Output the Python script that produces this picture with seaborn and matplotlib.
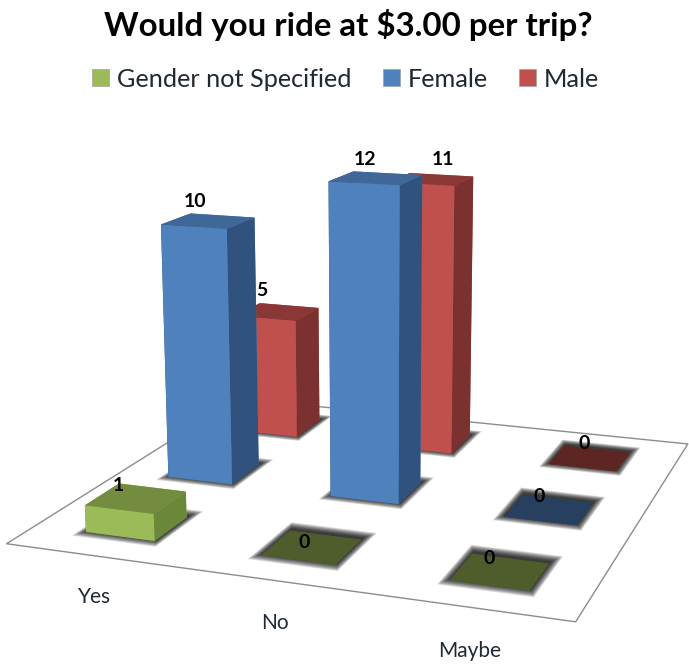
import matplotlib
matplotlib.use("Agg")
import matplotlib.pyplot as plt
import numpy as np
import pandas as pd
import seaborn as sns
from matplotlib.patches import Patch
from mpl_toolkits.mplot3d import proj3d
from mpl_toolkits.mplot3d.art3d import Poly3DCollection

categories = ["Yes", "No", "Maybe"]
series_names = ["Gender not Specified", "Female", "Male"]
gender_not_specified = [1, 0, 0]
female = [10, 12, 0]
male = [5, 11, 0]

# front, top, side, flat (zero height) shades
FACE_COLORS = {
    "Gender not Specified": ("#9BBB59", "#738C40", "#6B8739", "#4F5C2B"),
    "Female": ("#4F81BD", "#3F6797", "#31527C", "#27405F"),
    "Male": ("#C0504D", "#8A3835", "#7A3130", "#5E2623"),
}
# camera and bar footprint, fitted against the reference's floor corners
ELEV, AZIM, FOCAL, ZOOM = 13.88, -70.21, 0.4919, 1.2041
BOX_ASPECT = (1, 0.9705, 0.5885)
SHIFT_X, SHIFT_Y = 21.9 / 689, -13.9 / 664
BAR_X0, BAR_DX = 0.3056, 0.4001
BAR_Y0, BAR_DY = 0.2978, 0.3908
LABEL_COLOR = "#1f2933"
# pixel nudges for the value labels (Excel places them by its own rules)
LABEL_NUDGE = {
    ("Gender not Specified", "Yes"): (-7, -4),
    ("Gender not Specified", "No"): (3, -13),
    ("Gender not Specified", "Maybe"): (1, -5),
    ("Female", "Yes"): (-3, 3),
    ("Female", "No"): (0, 2),
    ("Female", "Maybe"): (1, -3),
    ("Male", "Yes"): (-6, 7),
    ("Male", "No"): (21, 4),
    ("Male", "Maybe"): (4, 0),
}

sns.set_theme(style="white")
plt.rcParams["font.family"] = ["Lato", "DejaVu Sans"]

df = pd.DataFrame({
    "category": categories * 3,
    "series": np.repeat(series_names, 3),
    "value": gender_not_specified + female + male,
})
df["xi"] = df["category"].map({c: i for i, c in enumerate(categories)})
df["yi"] = df["series"].map({s: i for i, s in enumerate(series_names)})

fig = plt.figure(figsize=(6.89, 6.64), dpi=100)
ax = fig.add_axes([SHIFT_X, SHIFT_Y, 1, 1], projection="3d", computed_zorder=False)
ax.set_proj_type("persp", focal_length=FOCAL)
ax.view_init(elev=ELEV, azim=AZIM)
ax.set_xlim(0, 3)
ax.set_ylim(0, 3)
ax.set_zlim(0, 12)
ax.set_box_aspect(BOX_ASPECT, zoom=ZOOM)
ax.set_axis_off()


def project(x, y, z):
    """Screen position of a 3D point, in the axes' 2D data coordinates."""
    px, py, _ = proj3d.proj_transform(x, y, z, ax.get_proj())
    return px, py


floor = Poly3DCollection([[(0, 0, 0), (3, 0, 0), (3, 3, 0), (0, 3, 0)]],
                         facecolors="white", edgecolors="#8c8c8c", linewidths=1.0)
floor.set_zorder(0)
ax.add_collection3d(floor)
floor.set_clip_on(False)

# painter's order: far series first, and left categories first within a series
order = df.sort_values(["yi", "xi"], ascending=[False, True])

# soft shadows go down first so they never lie over a bar
z = 1
for _, row in order.iterrows():
    x0 = row.xi + BAR_X0
    y0 = row.yi + BAR_Y0
    for k in range(12, 0, -1):
        gx, gy = 0.0035 * k, 0.0085 * k
        sh = ax.bar3d(x0 - gx, y0 - gy + 0.025, 0, BAR_DX + 2 * gx, BAR_DY + 2 * gy, 0,
                      color=(0, 0, 0, 0.055), shade=False, linewidth=0)
        sh.set_zorder(z)
        z += 1

for _, row in order.iterrows():
    front, top, side, flat = FACE_COLORS[row.series]
    if row.value == 0:
        colors = [flat] * 6
    else:
        colors = [top, top, front, front, side, side]
    bar = ax.bar3d(row.xi + BAR_X0, row.yi + BAR_Y0, 0, BAR_DX, BAR_DY, row.value,
                   color=colors, shade=False, linewidth=0)
    bar.set_zorder(z)
    z += 1

for _, row in order.iterrows():
    anchor = project(row.xi + BAR_X0 + BAR_DX / 2 - 0.06, row.yi + BAR_Y0 + BAR_DY / 2, row.value + 0.6)
    ax.annotate(str(row.value), xy=anchor, xycoords="data",
                xytext=LABEL_NUDGE[(row.series, row.category)], textcoords="offset pixels",
                ha="center", va="center", fontsize=14, fontweight="bold", color="black",
                zorder=z, annotation_clip=False)

for i, cat in enumerate(categories):
    px, py = project(0.78 + i * 0.93, -0.5, 0)
    ax.text2D(px, py, cat, transform=ax.transData, ha="center", va="center",
              fontsize=15, color=LABEL_COLOR, zorder=z)

fig.text(0.505, 0.963, "Would you ride at $3.00 per trip?", ha="center", va="center",
         fontsize=23.8, fontweight="bold", color="black")

handles = [Patch(facecolor=FACE_COLORS[s][0], edgecolor="#a0a0a0", linewidth=0.5, label=s) for s in series_names]
fig.legend(handles=handles, loc="center", bbox_to_anchor=(0.5015, 0.881), ncol=3, frameon=False,
           fontsize=18.2, handlelength=0.67, handleheight=0.67, handletextpad=0.3, columnspacing=1.25,
           labelcolor=LABEL_COLOR)

fig.savefig("out.png", dpi=100)
